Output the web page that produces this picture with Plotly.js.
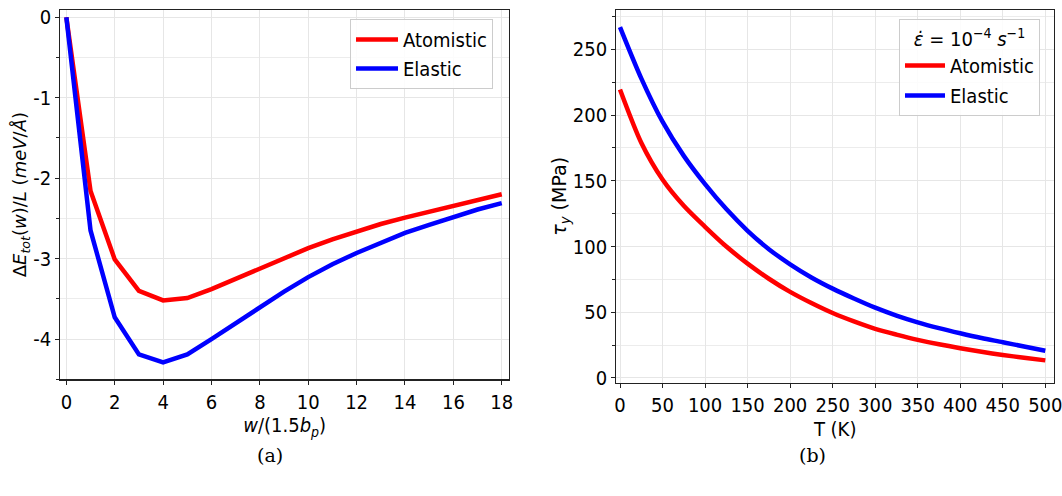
<!DOCTYPE html>
<html>
<head>
<meta charset="utf-8">
<script src="https://cdn.plot.ly/plotly-3.0.1.min.js"></script>
<style>html,body{margin:0;padding:0;background:#fff;}#chart{width:1062px;height:496px;}</style>
</head>
<body>
<div id="chart"></div>
<script>
// ---- Panel (a) data ----
const wValues = [0,1,2,3,4,5,6,7,8,9,10,11,12,13,14,15,16,17,18];
const atomisticE = [0,-2.16,-3.01,-3.40,-3.52,-3.49,-3.38,-3.25,-3.12,-2.99,-2.87,-2.76,-2.66,-2.57,-2.49,-2.42,-2.35,-2.28,-2.20];
const elasticE   = [0,-2.65,-3.73,-4.19,-4.29,-4.19,-4.00,-3.80,-3.60,-3.41,-3.23,-3.07,-2.93,-2.80,-2.68,-2.58,-2.48,-2.39,-2.31];
const aXTicks = [0,2,4,6,8,10,12,14,16,18];
const aYTicks = [0,-1,-2,-3,-4];
const aYTickText = ["0","-1","-2","-3","-4"];

// ---- Panel (b) data ----
const tempK = [0,25,50,75,100,125,150,175,200,225,250,275,300,325,350,375,400,425,450,475,500];
const atomisticTau = [219.5,179,151,131,115,100,87,75.5,65.5,57,49.4,43,37.4,33,29.0,25.6,22.6,19.9,17.5,15.4,13.4];
const elasticTau   = [267,228,195,169,147.5,128.5,112,98,86.5,76.5,68,60.5,53.5,47.5,42.3,37.9,34.0,30.4,27.2,23.9,20.7];
const bXTicks = [0,50,100,150,200,250,300,350,400,450,500];
const bYTicks = [0,50,100,150,200,250];

const seriesNames = ["Atomistic","Elastic"];
const legendTitleB = "<i>ε̇</i> = 10<sup>−4</sup> <i>s</i><sup>−1</sup>";
const RED = "#ff0000", BLUE = "#0000ff";
const FONT = "DejaVu Sans Condensed, DejaVu Sans, sans-serif";
const RFONT = "DejaVu Sans, sans-serif";
const W = 1062, H = 496;
const px = v => v / W, py = v => 1 - v / H;

const traces = [
  {x: wValues, y: atomisticE, name: seriesNames[0], legendgroup: "a1", mode: "lines", line: {color: RED, width: 4.5}, xaxis: "x", yaxis: "y", legend: "legend"},
  {x: wValues, y: elasticE, name: seriesNames[1], legendgroup: "a2", mode: "lines", line: {color: BLUE, width: 4.5}, xaxis: "x", yaxis: "y", legend: "legend"},
  {x: tempK, y: atomisticTau, name: seriesNames[0], legendgroup: "b1", mode: "lines", line: {color: RED, width: 4.5, shape: "spline", smoothing: 0.8}, xaxis: "x2", yaxis: "y2", legend: "legend2"},
  {x: tempK, y: elasticTau, name: seriesNames[1], legendgroup: "b2", mode: "lines", line: {color: BLUE, width: 4.5, shape: "spline", smoothing: 0.8}, xaxis: "x2", yaxis: "y2", legend: "legend2"}
];

const axisBase = {
  showline: true, linecolor: "#222", linewidth: 1.2, mirror: true,
  ticks: "outside", ticklen: 4, tickwidth: 1, tickcolor: "#222",
  showgrid: true, gridcolor: "#e6e6e6", gridwidth: 1,
  zeroline: false, tickfont: {family: FONT, size: 20, color: "#000"},
  ticklabeloverflow: "allow",
  automargin: false
};
const titleFont = {family: FONT, size: 20, color: "#000"};
const ytitleFont = {family: RFONT, size: 18, color: "#000"};

const layout = {
  width: W, height: H,
  margin: {l: 0, r: 0, t: 0, b: 0},
  paper_bgcolor: "#fff", plot_bgcolor: "#fff",
  showlegend: true,
  xaxis: Object.assign({}, axisBase, {
    domain: [px(60.3), px(509)], anchor: "y",
    range: [-0.25, 18.3], tickmode: "array", tickvals: aXTicks,
    title: {text: "<i>w</i>/(1.5<i>b</i><sub><i>p</i></sub>)", font: titleFont, standoff: 1}
  }),
  yaxis: Object.assign({}, axisBase, {
    domain: [py(379.3), py(10)], anchor: "x",
    range: [-4.5, 0.09], tickmode: "array", tickvals: aYTicks, ticktext: aYTickText,
    minor: {dtick: 0.5, ticks: "outside", ticklen: 3, tickcolor: "#222", showgrid: true, gridcolor: "#ececec"},
    title: {text: "Δ<i>E</i><sub><i>tot</i></sub>(<i>w</i>)/<i>L</i> (<i>meV</i>/<i>Å</i>)", font: ytitleFont, standoff: 0}
  }),
  xaxis2: Object.assign({}, axisBase, {
    domain: [px(616.3), px(1054)], anchor: "y2",
    range: [-4.35, 510.2], tickmode: "array", tickvals: bXTicks,
    title: {text: "T (K)", font: titleFont, standoff: 0}
  }),
  yaxis2: Object.assign({}, axisBase, {
    domain: [py(382.7), py(10)], anchor: "x2",
    range: [-3.6, 280], tickmode: "array", tickvals: bYTicks,
    minor: {dtick: 25, ticks: "outside", ticklen: 3, tickcolor: "#222", showgrid: true, gridcolor: "#ececec"},
    title: {text: "<i>τ</i><sub><i>y</i></sub> (MPa)", font: {family: RFONT, size: 19, color: "#000"}, standoff: 0}
  }),
  legend: {
    x: px(350), y: py(19), xanchor: "left", yanchor: "top",
    bgcolor: "rgba(255,255,255,0.85)", bordercolor: "#cccccc", borderwidth: 1,
    font: {family: FONT, size: 20, color: "#000"}, tracegroupgap: 0, traceorder: "grouped",
    itemwidth: 42
  },
  legend2: {
    x: px(899), y: py(19), xanchor: "left", yanchor: "top",
    bgcolor: "rgba(255,255,255,0.85)", bordercolor: "#cccccc", borderwidth: 1,
    font: {family: FONT, size: 20, color: "#000"}, tracegroupgap: 1, traceorder: "grouped",
    itemwidth: 40,
    title: {text: legendTitleB, font: {family: FONT, size: 20, color: "#000"}, side: "top center"}
  },
  annotations: [
    {text: "(a)", xref: "paper", yref: "paper", x: px(270), y: py(455), showarrow: false, xanchor: "center", yanchor: "middle", font: {family: "DejaVu Serif, serif", size: 19, color: "#000"}},
    {text: "(b)", xref: "paper", yref: "paper", x: px(812), y: py(455), showarrow: false, xanchor: "center", yanchor: "middle", font: {family: "DejaVu Serif, serif", size: 19, color: "#000"}}
  ]
};

Plotly.newPlot("chart", traces, layout, {staticPlot: true, displayModeBar: false});
</script>
</body>
</html>
